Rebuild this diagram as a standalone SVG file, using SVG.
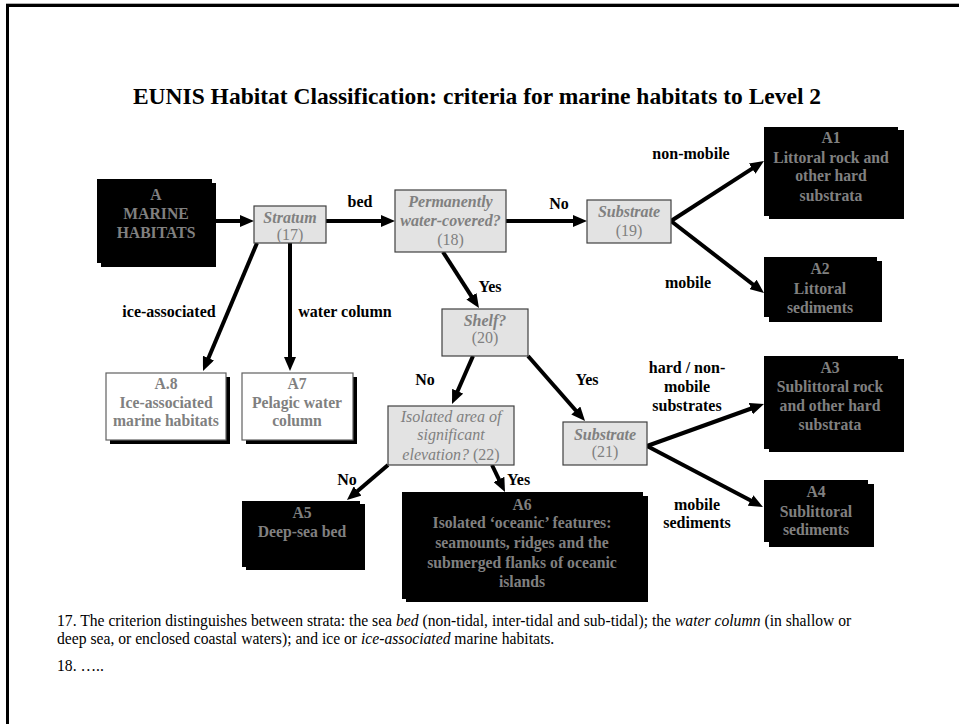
<svg xmlns="http://www.w3.org/2000/svg" width="959" height="724" viewBox="0 0 959 724">
  <style>
    .title { font-family: "Liberation Serif", "Times New Roman", serif; font-weight: bold; font-size: 23.5px; fill: #000; }
    .dark rect.main, .dark rect.shadow { fill: #000; }
    .dark text { font-family: "Liberation Serif", serif; font-weight: bold; font-size: 15.7px; fill: #808080; text-anchor: middle; }
    .light rect.main { fill: #fff; stroke: #606060; stroke-width: 1.2; }
    .light rect.shadow { fill: #000; }
    .light text { font-family: "Liberation Serif", serif; font-weight: bold; font-size: 15.7px; fill: #808080; text-anchor: middle; }
    .question rect { fill: #e3e3e3; stroke: #404040; stroke-width: 1.2; }
    .question text { font-family: "Liberation Serif", serif; font-size: 16px; fill: #808080; text-anchor: middle; }
    .question .q { font-style: italic; font-weight: bold; }
    .question .qi { font-style: italic; font-weight: normal; }
    .label { font-family: "Liberation Serif", serif; font-weight: bold; font-size: 16px; fill: #000; }
    .mid { text-anchor: middle; }
    .conn line { stroke: #000; stroke-width: 4; marker-end: url(#head); }
    .note { font-family: "Liberation Serif", serif; font-size: 15.65px; fill: #000; }
  </style>
  <defs>
    <marker id="head" markerUnits="userSpaceOnUse" viewBox="0 0 14 12" markerWidth="14" markerHeight="12" refX="5" refY="6" orient="auto">
      <path d="M0,0 L14,6 L0,12 z" fill="#000"/>
    </marker>
  </defs>

  <rect width="959" height="724" fill="#fff"/>
  <!-- slide frame -->
  <path d="M7.5,724 V5.5 H959" fill="none" stroke="#000" stroke-width="3"/>
  <line x1="6" y1="3.5" x2="959" y2="3.5" stroke="#b0b0b0" stroke-width="1"/>

  <text class="title" x="477" y="104" text-anchor="middle">EUNIS Habitat Classification: criteria for marine habitats to Level 2</text>

  <!-- connectors -->
  <g id="connectors" class="conn">
    <line x1="216" y1="221" x2="245" y2="221"/>
    <line x1="326" y1="221" x2="386" y2="221"/>
    <line x1="506" y1="221" x2="578" y2="221"/>
    <line x1="671" y1="221" x2="756.4" y2="165.9"/>
    <line x1="671" y1="221" x2="756.9" y2="287.5"/>
    <line x1="257" y1="243" x2="206.5" y2="362.7"/>
    <line x1="290" y1="243" x2="290" y2="362"/>
    <line x1="443" y1="252" x2="474.1" y2="300.4"/>
    <line x1="473" y1="356" x2="455.6" y2="395.8"/>
    <line x1="528" y1="356" x2="579.1" y2="414.2"/>
    <line x1="647" y1="446" x2="755.5" y2="407"/>
    <line x1="647" y1="446" x2="755" y2="502.8"/>
    <line x1="388" y1="465" x2="353.8" y2="494.2"/>
    <line x1="492" y1="465" x2="501.1" y2="483.9"/>
  </g>

  <!-- connector labels -->
  <g id="labels">
    <text class="label mid" x="360" y="207">bed</text>
    <text class="label mid" x="559" y="209">No</text>
    <text class="label mid" x="691" y="159">non-mobile</text>
    <text class="label mid" x="688" y="288">mobile</text>
    <text class="label mid" x="169" y="317">ice-associated</text>
    <text class="label mid" x="345" y="317">water column</text>
    <text class="label mid" x="490" y="292">Yes</text>
    <text class="label mid" x="425" y="385">No</text>
    <text class="label mid" x="587" y="385">Yes</text>
    <text class="label mid" x="687" y="373">hard / non-</text>
    <text class="label mid" x="687" y="392">mobile</text>
    <text class="label mid" x="687" y="411">substrates</text>
    <text class="label mid" x="697" y="510">mobile</text>
    <text class="label mid" x="697" y="528">sediments</text>
    <text class="label mid" x="347" y="485">No</text>
    <text class="label" x="507" y="485">Yes</text>
  </g>

  <!-- nodes -->
  <g id="node-A" class="dark">
    <rect class="shadow" x="101" y="183" width="115" height="84"/>
    <rect class="main" x="97" y="179" width="115" height="84"/>
    <text x="156" y="200">A</text>
    <text x="156" y="219">MARINE</text>
    <text x="156" y="238">HABITATS</text>
  </g>

  <g id="node-stratum" class="question">
    <rect x="254" y="206" width="72" height="37"/>
    <text class="q" x="290" y="223">Stratum</text>
    <text x="290" y="240">(17)</text>
  </g>

  <g id="node-perm" class="question">
    <rect x="395" y="190" width="111" height="62"/>
    <text class="q" x="450.5" y="207">Permanently</text>
    <text class="q" x="450.5" y="226">water-covered?</text>
    <text x="450.5" y="245">(18)</text>
  </g>

  <g id="node-sub19" class="question">
    <rect x="587" y="200" width="84" height="43"/>
    <text class="q" x="629" y="217">Substrate</text>
    <text x="629" y="236">(19)</text>
  </g>

  <g id="node-A1" class="dark">
    <rect class="shadow" x="769" y="130" width="135" height="89"/>
    <rect class="main" x="764" y="127" width="134" height="89"/>
    <text x="831" y="143">A1</text>
    <text x="831" y="163">Littoral rock and</text>
    <text x="831" y="181">other hard</text>
    <text x="831" y="201">substrata</text>
  </g>

  <g id="node-A2" class="dark">
    <rect class="shadow" x="769" y="261" width="113" height="61"/>
    <rect class="main" x="764" y="257" width="113" height="60"/>
    <text x="820" y="274">A2</text>
    <text x="820" y="294">Littoral</text>
    <text x="820" y="313">sediments</text>
  </g>

  <g id="node-A8" class="light">
    <rect class="shadow" x="110" y="377" width="120" height="67"/>
    <rect class="main" x="106" y="373" width="120" height="67"/>
    <text x="166" y="389">A.8</text>
    <text x="166" y="408">Ice-associated</text>
    <text x="166" y="426">marine habitats</text>
  </g>

  <g id="node-A7" class="light">
    <rect class="shadow" x="246" y="377" width="111" height="67"/>
    <rect class="main" x="242" y="373" width="111" height="67"/>
    <text x="297" y="389">A7</text>
    <text x="297" y="408">Pelagic water</text>
    <text x="297" y="426">column</text>
  </g>

  <g id="node-shelf" class="question">
    <rect x="442" y="309" width="86" height="47"/>
    <text class="q" x="485" y="326">Shelf?</text>
    <text x="485" y="343">(20)</text>
  </g>

  <g id="node-isolated" class="question">
    <rect x="388" y="406" width="126" height="59"/>
    <text class="qi" x="451" y="422">Isolated area of</text>
    <text class="qi" x="451" y="440">significant</text>
    <text x="451" y="460"><tspan class="qi">elevation?</tspan> (22)</text>
  </g>

  <g id="node-sub21" class="question">
    <rect x="563" y="422" width="84" height="43"/>
    <text class="q" x="605" y="440">Substrate</text>
    <text x="605" y="457">(21)</text>
  </g>

  <g id="node-A3" class="dark">
    <rect class="shadow" x="769" y="359" width="135" height="93"/>
    <rect class="main" x="764" y="356" width="134" height="93"/>
    <text x="830" y="373">A3</text>
    <text x="830" y="392">Sublittoral rock</text>
    <text x="830" y="411">and other hard</text>
    <text x="830" y="430">substrata</text>
  </g>

  <g id="node-A4" class="dark">
    <rect class="shadow" x="769" y="484" width="105" height="63"/>
    <rect class="main" x="764" y="480" width="104" height="62"/>
    <text x="816" y="497">A4</text>
    <text x="816" y="517">Sublittoral</text>
    <text x="816" y="535">sediments</text>
  </g>

  <g id="node-A5" class="dark">
    <rect class="shadow" x="246" y="504" width="119" height="66"/>
    <rect class="main" x="242" y="501" width="118" height="66"/>
    <text x="302" y="518">A5</text>
    <text x="302" y="537">Deep-sea bed</text>
  </g>

  <g id="node-A6" class="dark">
    <rect class="shadow" x="406" y="496" width="242" height="106"/>
    <rect class="main" x="402" y="492" width="241" height="107"/>
    <text x="522" y="510">A6</text>
    <text x="522" y="528">Isolated ‘oceanic’ features:</text>
    <text x="522" y="548">seamounts, ridges and the</text>
    <text x="522" y="568">submerged flanks of oceanic</text>
    <text x="522" y="587">islands</text>
  </g>

  <!-- footnotes -->
  <g id="notes" class="note">
    <text x="57" y="626">17. The criterion distinguishes between strata: the sea <tspan font-style="italic">bed</tspan> (non-tidal, inter-tidal and sub-tidal); the <tspan font-style="italic">water column</tspan> (in shallow or</text>
    <text x="57" y="644">deep sea, or enclosed coastal waters); and ice or <tspan font-style="italic">ice-associated</tspan> marine habitats.</text>
    <text x="57" y="671">18. …..</text>
  </g>
</svg>
